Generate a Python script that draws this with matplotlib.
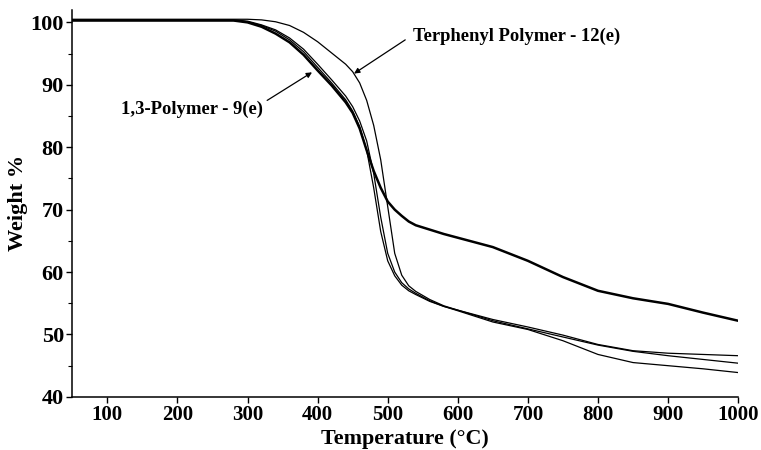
import matplotlib
matplotlib.use('Agg')
import matplotlib.pyplot as plt
from matplotlib.ticker import MultipleLocator

# TGA data
temps = [50, 100, 200, 280, 300, 320, 340, 360, 380, 400, 420, 440, 450, 460, 470,
         480, 490, 500, 510, 520, 530, 540, 560, 580, 600, 650, 700, 750, 800, 850,
         900, 950, 1000]

# thick curve with the plateau near 70 %
poly_a = [100.3, 100.3, 100.3, 100.3, 100.0, 99.3, 98.2, 96.8, 94.8, 92.3, 89.9, 87.2,
          85.5, 83.0, 79.5, 76.2, 73.5, 71.3, 70.0, 69.0, 68.1, 67.5, 66.8, 66.1, 65.5,
          64.0, 61.8, 59.2, 57.0, 55.8, 54.9, 53.5, 52.2]
# 1,3-polymer family
poly_b = [100.3, 100.3, 100.3, 100.3, 100.1, 99.5, 98.6, 97.2, 95.3, 92.8, 90.3, 87.6,
          85.8, 83.3, 79.5, 73.5, 66.5, 61.8, 59.4, 57.9, 57.0, 56.4, 55.3, 54.5, 53.9,
          52.2, 50.9, 49.6, 48.3, 47.3, 46.6, 46.0, 45.4]
poly_c = [100.4, 100.4, 100.4, 100.4, 100.2, 99.6, 98.8, 97.5, 95.7, 93.3, 90.8, 88.2,
          86.5, 84.2, 81.0, 75.8, 68.8, 63.0, 60.0, 58.3, 57.3, 56.6, 55.4, 54.5, 53.8,
          52.0, 50.8, 49.0, 46.8, 45.5, 45.0, 44.5, 43.9]
# terphenyl polymer
terphenyl = [100.5, 100.5, 100.5, 100.5, 100.5, 100.4, 100.1, 99.5, 98.4, 96.9, 95.1,
             93.3, 92.1, 90.3, 87.5, 83.5, 78.0, 70.5, 63.0, 59.5, 57.8, 56.9, 55.6, 54.6,
             53.9, 52.4, 51.2, 49.9, 48.4, 47.4, 47.0, 46.8, 46.6]

x_ticks = [100, 200, 300, 400, 500, 600, 700, 800, 900, 1000]
y_ticks = [40, 50, 60, 70, 80, 90, 100]

plt.rcParams['font.family'] = ['Liberation Serif', 'DejaVu Serif']
plt.rcParams['font.weight'] = 'bold'

fig = plt.figure(figsize=(7.61, 4.5), dpi=100)
ax = fig.add_axes([0.095, 0.118, 0.875, 0.86])

ax.plot(temps, terphenyl, color='black', lw=0.9)
ax.plot(temps, poly_c, color='black', lw=0.9)
ax.plot(temps, poly_b, color='black', lw=0.9)
ax.plot(temps, poly_a, color='black', lw=1.8)

ax.set_xlim(50, 1000)
ax.set_ylim(40, 102)
ax.set_xticks(x_ticks)
ax.set_yticks(y_ticks)
ax.yaxis.set_minor_locator(MultipleLocator(5))
ax.tick_params(axis='x', which='major', labelsize=15, direction='out',
               length=4, width=1, pad=2)
ax.tick_params(axis='y', which='major', labelsize=16, direction='out',
               length=4, width=1, pad=2)
ax.tick_params(axis='y', which='minor', direction='out', length=3, width=0.8)
for lbl in ax.get_xticklabels() + ax.get_yticklabels():
    lbl.set_fontweight('bold')

ax.spines['top'].set_visible(False)
ax.spines['right'].set_visible(False)
ax.spines['left'].set_linewidth(1.1)
ax.spines['bottom'].set_linewidth(1.1)

ax.set_xlabel('Temperature (°C)', fontsize=15.8, fontweight='bold', labelpad=3)
ax.set_ylabel('Weight %', fontsize=16, fontweight='bold', labelpad=2)

# labels and arrows
ax.text(322, 86, '1,3-Polymer - 9(e)', ha='right', va='center',
        fontsize=13.4, fontweight='bold')
ax.annotate('', xy=(392, 92), xytext=(328, 87.5),
            arrowprops=dict(arrowstyle='-|>', color='black', lw=0.9,
                            mutation_scale=8, shrinkA=0, shrinkB=0))
ax.text(536, 97.8, 'Terphenyl Polymer - 12(e)', ha='left', va='center',
        fontsize=13.4, fontweight='bold')
ax.annotate('', xy=(452, 91.8), xytext=(525, 97.2),
            arrowprops=dict(arrowstyle='-|>', color='black', lw=0.9,
                            mutation_scale=8, shrinkA=0, shrinkB=0))

fig.savefig('out.png', dpi=100, facecolor='white')
